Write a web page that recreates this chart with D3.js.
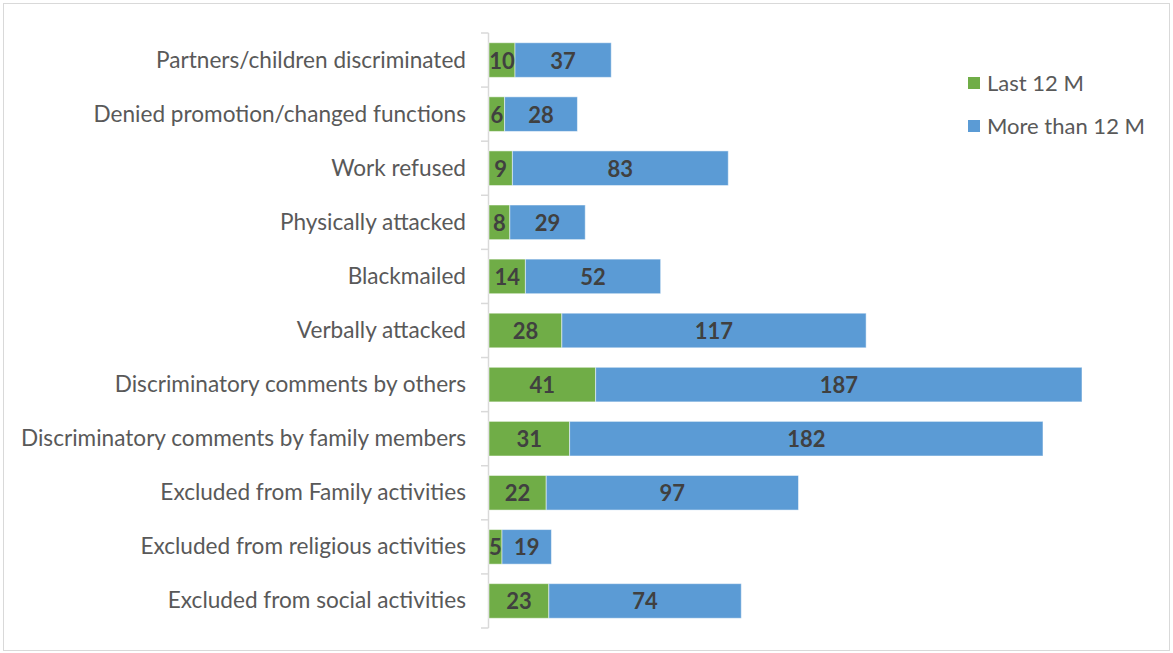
<!DOCTYPE html>
<html lang="en">
<head>
    <meta charset="UTF-8">
    <title>Discrimination experiences</title>
    <script src="https://d3js.org/d3.v7.min.js"></script>
    <style>
        body { margin: 0; background: #fff; }
    </style>
</head>
<body>
    <script>
        // data, top to bottom
        const categories = [
            "Partners/children discriminated",
            "Denied promotion/changed functions",
            "Work refused",
            "Physically attacked",
            "Blackmailed",
            "Verbally attacked",
            "Discriminatory comments by others",
            "Discriminatory comments by family members",
            "Excluded from Family activities",
            "Excluded from religious activities",
            "Excluded from social activities"
        ];
        const last12 = [10, 6, 9, 8, 14, 28, 41, 31, 22, 5, 23];
        const moreThan12 = [37, 28, 83, 29, 52, 117, 187, 182, 97, 19, 74];
        const seriesNames = ["Last 12 M", "More than 12 M"];
        const colors = ["#70AD47", "#5B9BD5"];

        const width = 1173, height = 653;
        const font = "Lato, 'Open Sans', sans-serif";

        const svg = d3.select("body")
            .append("svg")
            .attr("width", width)
            .attr("height", height);

        // chart frame
        svg.append("rect")
            .attr("x", 3.5).attr("y", 3.5)
            .attr("width", 1166).attr("height", 647)
            .attr("fill", "#fff")
            .attr("stroke", "#d9d9d9");

        const x = d3.scaleLinear().domain([0, 228]).range([489, 1082]);
        const y = d3.scaleBand().domain(categories).range([33, 628]).paddingInner(0.36).paddingOuter(0.18);

        const rows = categories.map((c, i) => ({
            cat: c,
            parts: [
                { s: 0, x0: 0, x1: last12[i], v: last12[i] },
                { s: 1, x0: last12[i], x1: last12[i] + moreThan12[i], v: moreThan12[i] }
            ]
        }));

        // axis with ticks between categories
        const axisG = svg.append("g");
        axisG.append("line")
            .attr("x1", 488.5).attr("x2", 488.5)
            .attr("y1", 33).attr("y2", 628)
            .attr("stroke", "#d9d9d9").attr("stroke-width", 1.5);
        const step = 595 / categories.length;
        d3.range(categories.length + 1).forEach(i => {
            axisG.append("line")
                .attr("x1", 481).attr("x2", 488.5)
                .attr("y1", 33 + i * step).attr("y2", 33 + i * step)
                .attr("stroke", "#d9d9d9").attr("stroke-width", 1.5);
        });

        // category labels
        svg.selectAll("text.cat")
            .data(categories)
            .enter()
            .append("text")
            .attr("class", "cat")
            .attr("x", 466)
            .attr("y", d => y(d) + y.bandwidth() / 2 - 1)
            .attr("text-anchor", "end")
            .attr("dominant-baseline", "central")
            .attr("font-family", font)
            .attr("font-size", "22.6px")
            .attr("fill", "#595959")
            .text(d => d);

        // bars
        const rowG = svg.selectAll("g.row")
            .data(rows)
            .enter()
            .append("g")
            .attr("class", "row");

        rowG.selectAll("rect")
            .data(d => d.parts.map(p => ({ ...p, cat: d.cat })))
            .enter()
            .append("rect")
            .attr("x", d => x(d.x0))
            .attr("y", d => y(d.cat))
            .attr("width", d => x(d.x1) - x(d.x0))
            .attr("height", y.bandwidth())
            .attr("fill", d => colors[d.s])
            .attr("stroke", "#fff")
            .attr("stroke-opacity", 0.5)
            .attr("stroke-width", 1);

        rowG.selectAll("text")
            .data(d => d.parts.map(p => ({ ...p, cat: d.cat })))
            .enter()
            .append("text")
            .attr("x", d => (x(d.x0) + x(d.x1)) / 2)
            .attr("y", d => y(d.cat) + y.bandwidth() / 2)
            .attr("text-anchor", "middle")
            .attr("dominant-baseline", "central")
            .attr("font-family", font)
            .attr("font-size", "22px")
            .attr("font-weight", "bold")
            .attr("fill", "#404040")
            .text(d => d.v);

        // legend
        const legend = svg.append("g");
        seriesNames.forEach((name, i) => {
            legend.append("rect")
                .attr("x", 968).attr("y", 77 + i * 43)
                .attr("width", 12).attr("height", 12)
                .attr("fill", colors[i]);
            legend.append("text")
                .attr("x", 987).attr("y", 82 + i * 43)
                .attr("dominant-baseline", "central")
                .attr("font-family", font)
                .attr("font-size", "22px")
                .attr("fill", "#595959")
                .text(name);
        });
    </script>
</body>
</html>
